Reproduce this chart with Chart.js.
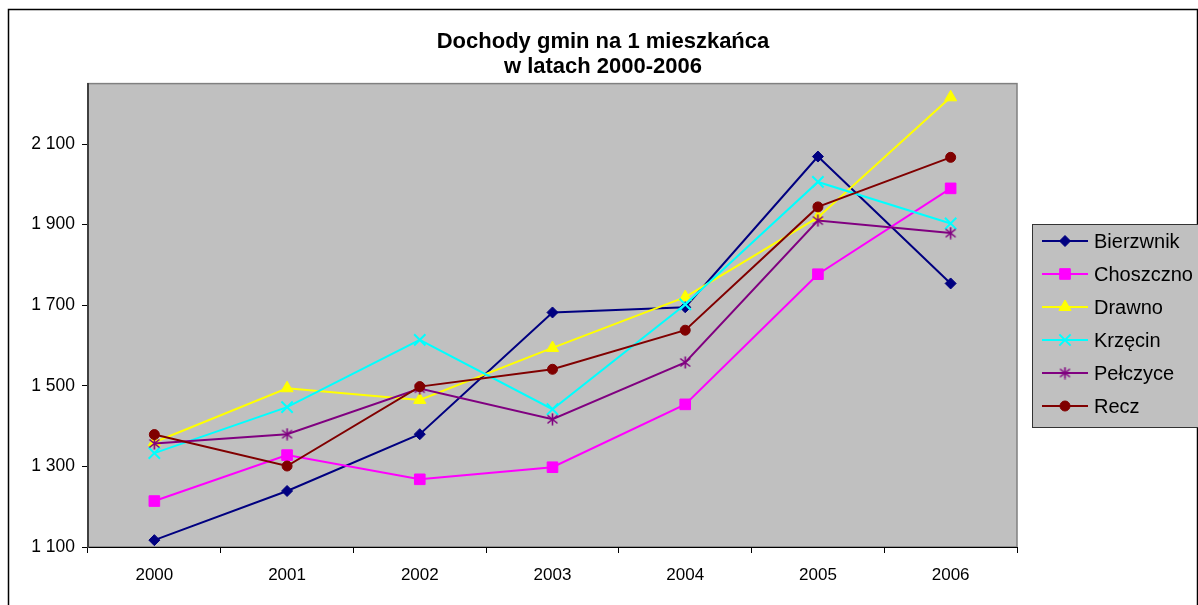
<!DOCTYPE html>
<html>
<head>
<meta charset="utf-8">
<title>Dochody gmin na 1 mieszkańca</title>
<script src="https://cdn.jsdelivr.net/npm/chart.js@4/dist/chart.umd.min.js"></script>
<style>
  html, body { margin: 0; padding: 0; background: #fff; }
  #wrap { width: 1198px; height: 605px; }
</style>
</head>
<body>
<div id="wrap"><canvas id="chart" width="1198" height="605"></canvas></div>
<script>
const years = ['2000', '2001', '2002', '2003', '2004', '2005', '2006'];
const yTicks = [1100, 1300, 1500, 1700, 1900, 2100];

const bierzwnik = [1117, 1239, 1380, 1682, 1695, 2069, 1754];
const choszczno = [1214, 1328, 1268, 1298, 1454, 1777, 1990];
const drawno    = [1360, 1494, 1465, 1594, 1720, 1918, 2216];
const krzecin   = [1333, 1447, 1614, 1442, 1702, 2006, 1903];
const pelczyce  = [1357, 1380, 1493, 1417, 1558, 1910, 1879];
const recz      = [1379, 1301, 1498, 1541, 1638, 1944, 2067];

const FONT = "'Liberation Sans', Arial, sans-serif";

// gwiazdka jak w Excelu: X + pionowa kreska
function asterisk(color) {
    const c = document.createElement('canvas');
    c.width = 13; c.height = 13;
    const g = c.getContext('2d');
    g.strokeStyle = color;
    g.lineWidth = 1.6;
    g.beginPath();
    g.moveTo(6.5, 0.5); g.lineTo(6.5, 12.5);
    g.moveTo(1.5, 2.5); g.lineTo(11.5, 10.5);
    g.moveTo(11.5, 2.5); g.lineTo(1.5, 10.5);
    g.stroke();
    return c;
}

function series(label, data, color, style, radius, bw) {
    return {
        label: label,
        data: data,
        borderColor: color,
        backgroundColor: color,
        borderWidth: 2,
        tension: 0,
        pointStyle: style,
        pointRadius: radius,
        pointHoverRadius: radius,
        pointBackgroundColor: color,
        pointBorderColor: color,
        pointBorderWidth: bw
    };
}

const datasets = [
    series('Bierzwnik', bierzwnik, '#000080', 'rectRot', 5.5, 1),
    series('Choszczno', choszczno, '#FF00FF', 'rect', 7.5, 1),
    series('Drawno', drawno, '#FFFF00', 'triangle', 7, 1),
    series('Krzęcin', krzecin, '#00FFFF', 'crossRot', 8, 2),
    series('Pełczyce', pelczyce, '#800080', asterisk('#800080'), 6, 1),
    series('Recz', recz, '#800000', 'circle', 5, 1)
];
// ostatnia seria rysowana na wierzchu
datasets.forEach((d, i) => { d.order = datasets.length - i; });

function fmt(v) {
    return String(v).replace(/\B(?=(\d{3})+(?!\d))/g, ' ');
}

// tło wykresu, ramka i obszar kreślenia
const background = {
    id: 'background',
    beforeDraw(chart) {
        const ctx = chart.ctx;
        const a = chart.chartArea;
        ctx.save();
        ctx.fillStyle = '#fff';
        ctx.fillRect(0, 0, chart.width, chart.height);
        ctx.strokeStyle = '#000';
        ctx.lineWidth = 1.5;
        ctx.strokeRect(8.5, 9.5, 1189, 610);
        ctx.fillStyle = '#C0C0C0';
        ctx.fillRect(a.left, a.top, a.right - a.left, a.bottom - a.top);
        ctx.strokeStyle = '#808080';
        ctx.lineWidth = 1.5;
        ctx.strokeRect(a.left, a.top, a.right - a.left, a.bottom - a.top);
        ctx.restore();
    }
};

// legenda z linią i znacznikiem
const sideLegend = {
    id: 'sideLegend',
    afterDraw(chart) {
        const ctx = chart.ctx;
        ctx.save();
        ctx.fillStyle = '#C0C0C0';
        ctx.fillRect(1032, 224, 170, 203);
        ctx.strokeStyle = '#333';
        ctx.lineWidth = 1;
        ctx.strokeRect(1032.5, 224.5, 170, 203);
        chart.data.datasets.forEach((ds, i) => {
            const y = 241 + i * 33;
            ctx.strokeStyle = ds.borderColor;
            ctx.lineWidth = 2;
            ctx.beginPath();
            ctx.moveTo(1042, y);
            ctx.lineTo(1088, y);
            ctx.stroke();
            ctx.fillStyle = ds.pointBackgroundColor;
            ctx.strokeStyle = ds.pointBorderColor;
            ctx.lineWidth = ds.pointBorderWidth;
            Chart.helpers.drawPoint(ctx, {
                pointStyle: ds.pointStyle,
                radius: ds.pointRadius,
                rotation: 0,
                borderWidth: ds.pointBorderWidth
            }, 1065, y);
            ctx.fillStyle = '#000';
            ctx.font = '20px ' + FONT;
            ctx.textBaseline = 'middle';
            ctx.textAlign = 'left';
            ctx.fillText(ds.label, 1094, y + 1);
        });
        ctx.restore();
    }
};

new Chart(document.getElementById('chart').getContext('2d'), {
    type: 'line',
    data: { labels: years, datasets: datasets },
    plugins: [background, sideLegend],
    options: {
        responsive: false,
        animation: false,
        layout: { padding: { left: 8, top: 8, right: 0, bottom: 8 } },
        plugins: {
            legend: { display: false },
            tooltip: { enabled: false },
            title: {
                display: true,
                text: ['Dochody gmin na 1 mieszkańca', 'w latach 2000-2006'],
                color: '#000',
                font: { family: FONT, size: 22, weight: 'bold', lineHeight: 1.15 },
                padding: { top: 21, bottom: 4 }
            }
        },
        scales: {
            x: {
                offset: true,
                grid: { offset: true, drawOnChartArea: false, tickLength: 6, color: '#000' },
                border: { color: '#000', width: 1 },
                ticks: { color: '#000', font: { family: FONT, size: 17 }, padding: 12, maxRotation: 0 },
                afterFit: s => { s.height = 50; }
            },
            y: {
                min: 1100,
                max: 2250,
                grid: { drawOnChartArea: false, tickLength: 6, color: '#000' },
                border: { color: '#404040', width: 2 },
                ticks: {
                    stepSize: 200,
                    color: '#000',
                    padding: 7,
                    font: { family: FONT, size: 17.5 },
                    callback: v => fmt(v)
                },
                afterBuildTicks: s => { s.ticks = yTicks.map(v => ({ value: v })); },
                afterFit: s => { s.width = 80; }
            },
            // miejsce na legendę po prawej
            side: {
                type: 'linear',
                position: 'right',
                grid: { display: false },
                border: { display: false },
                ticks: { display: false },
                afterFit: s => { s.width = 181; }
            }
        }
    }
});
</script>
</body>
</html>
